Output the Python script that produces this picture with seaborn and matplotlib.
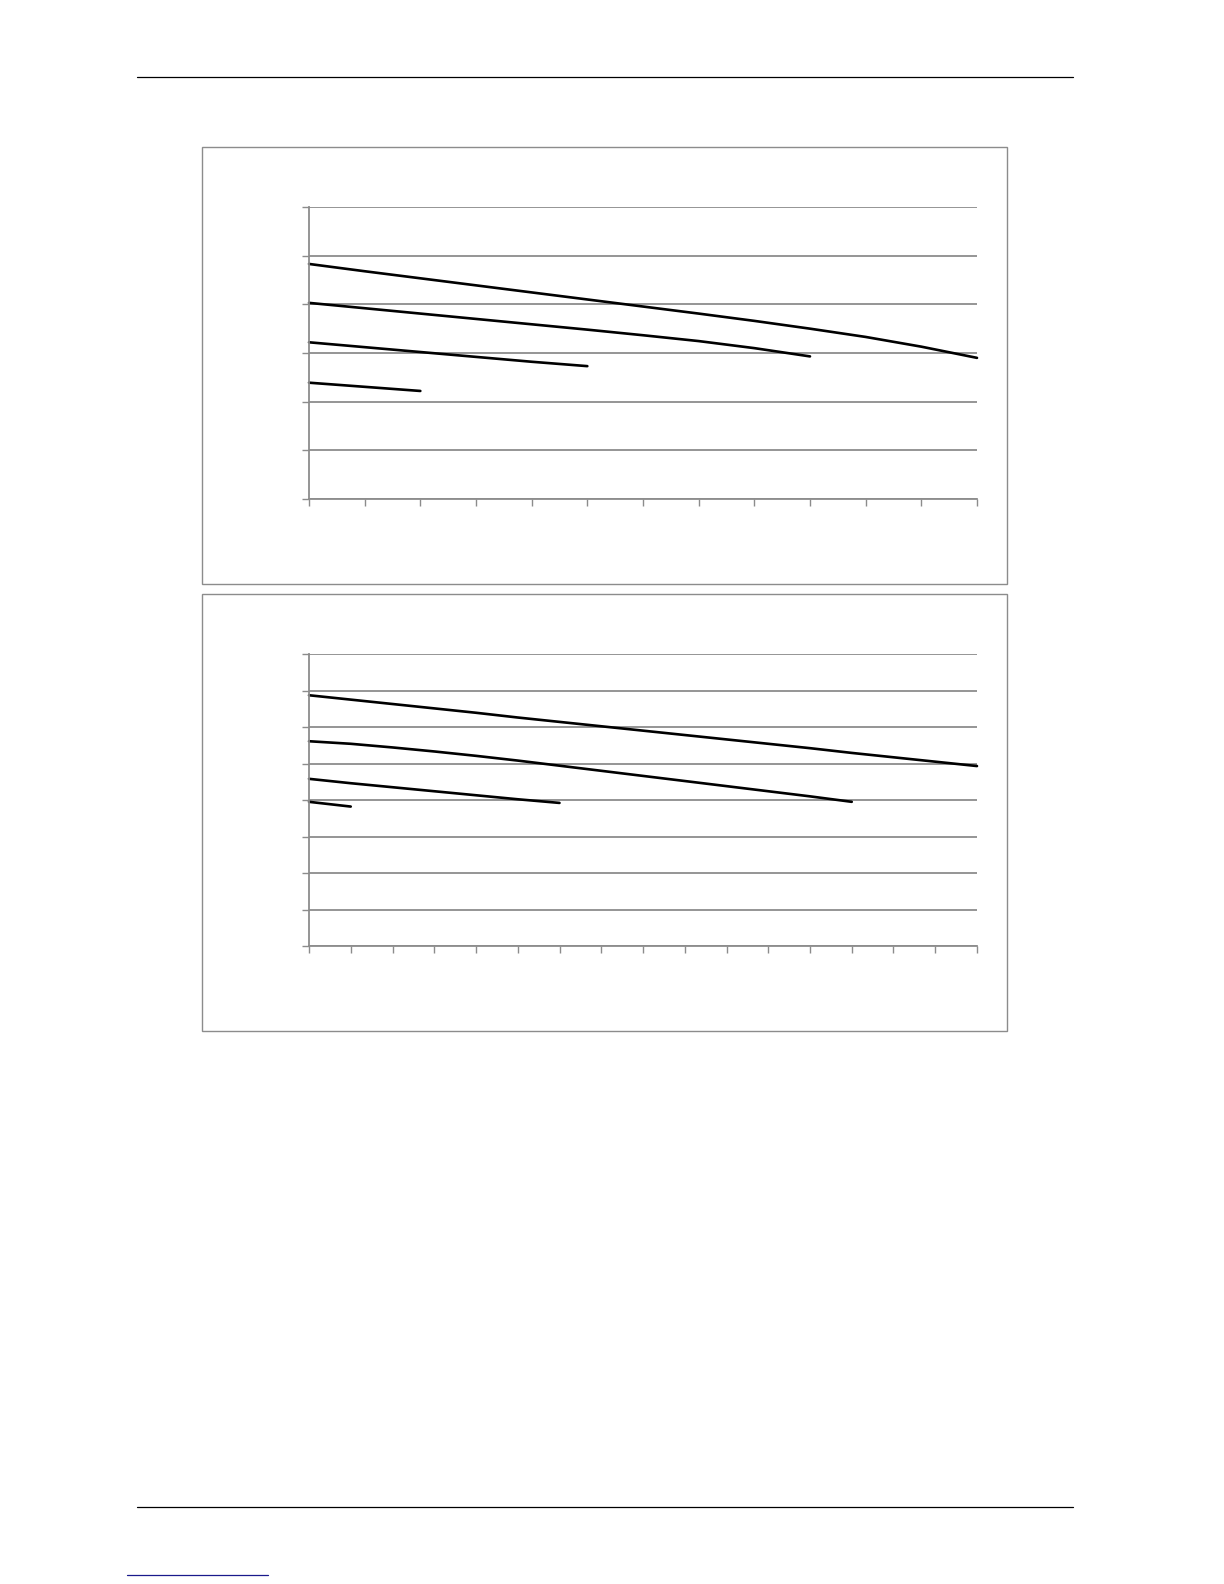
import matplotlib
matplotlib.use("Agg")
import matplotlib.pyplot as plt
import seaborn as sns
import pandas as pd
from matplotlib.patches import Rectangle
from matplotlib.lines import Line2D

# chart 1 series (values read at each integer x position)
top1_a = [4.83, 4.68, 4.535, 4.39, 4.245, 4.10, 3.955, 3.81, 3.66, 3.50, 3.33, 3.13, 2.90]
top1_b = [4.03, 3.92, 3.81, 3.70, 3.59, 3.48, 3.365, 3.245, 3.10, 2.93]
top1_c = [3.22, 3.12, 3.02, 2.92, 2.82, 2.73]
top1_d = [2.39, 2.305, 2.22]

# chart 2 series
bot2_a = [6.87, 6.75, 6.63, 6.51, 6.39, 6.26, 6.14, 6.02, 5.90, 5.78,
          5.66, 5.54, 5.42, 5.29, 5.17, 5.05, 4.93]
bot2_b = [5.61, 5.54, 5.44, 5.33, 5.21, 5.08, 4.94, 4.80, 4.66, 4.52,
          4.38, 4.24, 4.10, 3.95]
bot2_c = [4.58, 4.46, 4.35, 4.24, 4.13, 4.02, 3.92]
bot2_d = [3.95, 3.82]

sns.set_style("white")
W, H = 1224, 1584
fig = plt.figure(figsize=(12.24, 15.84), dpi=100)

grid_col = "#8c8c8c"


def to_df(series_list):
    rows = []
    for k, vals in enumerate(series_list):
        for i, v in enumerate(vals):
            rows.append({"x": i, "y": v, "s": k})
    return pd.DataFrame(rows)


def make_axes(px_left, px_top, px_right, px_bottom):
    return fig.add_axes([px_left / W, 1 - px_bottom / H,
                         (px_right - px_left) / W, (px_bottom - px_top) / H])


def style_axes(ax, xmax, ymax):
    ax.set_xlim(0, xmax)
    ax.set_ylim(0, ymax)
    ax.set_xticks(range(xmax + 1))
    ax.set_yticks(range(ymax + 1))
    ax.set_xticklabels([])
    ax.set_yticklabels([])
    ax.set_xlabel("")
    ax.set_ylabel("")
    ax.grid(False)
    ax.yaxis.grid(True, color=grid_col, linewidth=1.3)
    ax.set_axisbelow(True)
    for side in ["top", "right"]:
        ax.spines[side].set_visible(False)
    for side in ["left", "bottom"]:
        ax.spines[side].set_color(grid_col)
        ax.spines[side].set_linewidth(1.3)
    ax.tick_params(axis="both", direction="out", length=5, width=1,
                   color=grid_col, left=True, bottom=True)
    if ax.get_legend() is not None:
        ax.get_legend().remove()


# frames around the two charts
for top, bot in [(147, 584), (594, 1031)]:
    fig.add_artist(Rectangle((202 / W, 1 - bot / H), (1007 - 202) / W, (bot - top) / H,
                             transform=fig.transFigure, fill=False,
                             edgecolor="#8c8c8c", linewidth=1.0))

ax1 = make_axes(309, 207, 977, 499)
sns.lineplot(data=to_df([top1_a, top1_b, top1_c, top1_d]), x="x", y="y", units="s",
             estimator=None, color="black", linewidth=1.9, ax=ax1, clip_on=False)
style_axes(ax1, 12, 6)

ax2 = make_axes(309, 654, 977, 946)
sns.lineplot(data=to_df([bot2_a, bot2_b, bot2_c, bot2_d]), x="x", y="y", units="s",
             estimator=None, color="black", linewidth=1.9, ax=ax2, clip_on=False)
style_axes(ax2, 16, 8)

# page header/footer rules
fig.add_artist(Line2D([137 / W, 1073 / W], [1 - 77 / H, 1 - 77 / H], color="black", linewidth=0.9))
fig.add_artist(Line2D([137 / W, 1073 / W], [1 - 1507 / H, 1 - 1507 / H], color="black", linewidth=0.9))
fig.add_artist(Line2D([127 / W, 268 / W], [1 - 1575 / H, 1 - 1575 / H], color="#1a1a8c", linewidth=0.9))

fig.savefig("out.png", dpi=100, facecolor="white")
